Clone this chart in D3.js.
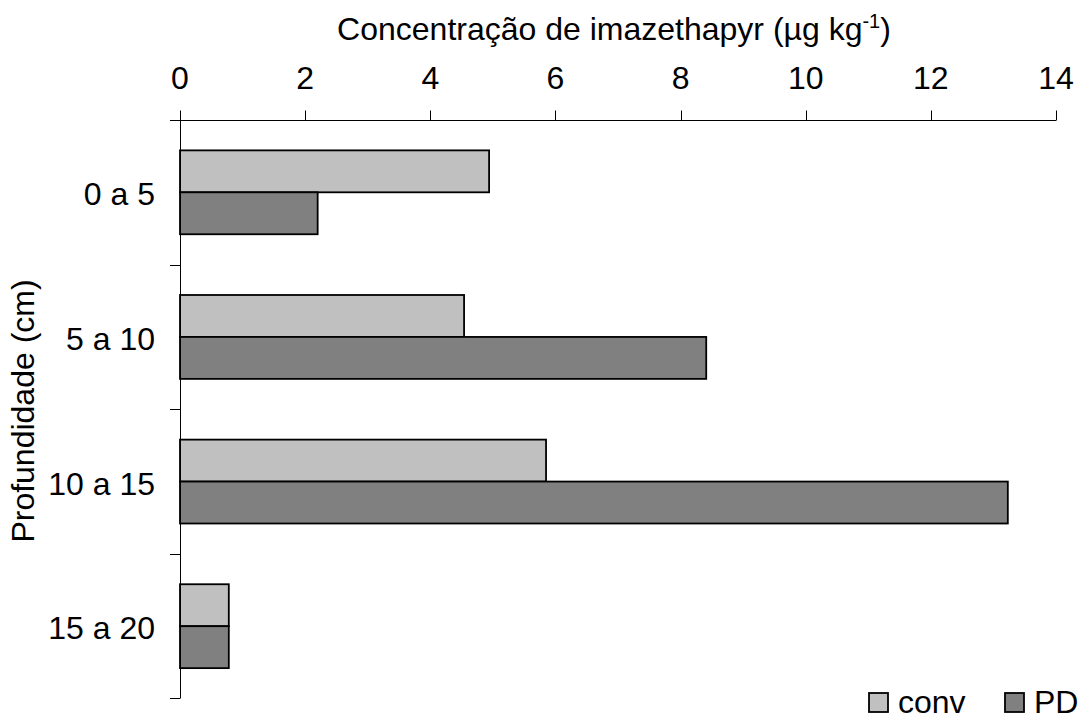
<!DOCTYPE html>
<html>
<head>
<meta charset="utf-8">
<script src="https://cdn.jsdelivr.net/npm/d3@7"></script>
<style>
  body { margin: 0; background: #fff; }
  text { font-family: "Liberation Sans", Arial, sans-serif; fill: #000; }
</style>
</head>
<body>
<div id="chart"></div>
<script>
var categories = ["0 a 5", "5 a 10", "10 a 15", "15 a 20"];
var seriesNames = ["conv", "PD"];
var convValues = [4.94, 4.54, 5.85, 0.78];
var pdValues = [2.2, 8.41, 13.23, 0.78];
var xTicks = [0, 2, 4, 6, 8, 10, 12, 14];
var colors = ["#c0c0c0", "#808080"];

var width = 1082, height = 715;
var mLeft = 180, mRight = 1056, mTop = 120, mBottom = 698.5;
var fontSize = "32px";

var svg = d3.select("#chart")
    .append("svg")
    .attr("width", width)
    .attr("height", height);

var x = d3.scaleLinear().domain([0, 14]).range([mLeft, mRight]);

var y = d3.scaleBand()
    .domain(categories)
    .range([mTop, mBottom])
    .paddingInner(0.42)
    .paddingOuter(0.21);

var ySub = d3.scaleBand()
    .domain(seriesNames)
    .range([0, y.bandwidth()]);

var rows = categories.map(function (c, i) {
    return { cat: c, values: [convValues[i], pdValues[i]] };
});

// bars
var groups = svg.selectAll("g.row")
    .data(rows).enter()
    .append("g")
    .attr("class", "row")
    .attr("transform", function (d) { return "translate(0," + y(d.cat) + ")"; });

groups.selectAll("rect")
    .data(function (d) { return d.values.map(function (v, j) { return { s: seriesNames[j], v: v, j: j }; }); })
    .enter()
    .append("rect")
    .attr("x", x(0))
    .attr("y", function (d) { return ySub(d.s); })
    .attr("width", function (d) { return x(d.v) - x(0); })
    .attr("height", ySub.bandwidth())
    .attr("fill", function (d) { return colors[d.j]; })
    .attr("stroke", "#000")
    .attr("stroke-width", 1.8);

// top x axis
var xAxis = svg.append("g")
    .attr("transform", "translate(0," + (mTop + 0.5) + ")");
xAxis.append("line")
    .attr("x1", mLeft - 10).attr("x2", mRight)
    .attr("y1", 0).attr("y2", 0)
    .attr("stroke", "#000");
xAxis.selectAll("line.tick")
    .data(xTicks).enter()
    .append("line")
    .attr("class", "tick")
    .attr("x1", function (d) { return Math.round(x(d)) + 0.5; })
    .attr("x2", function (d) { return Math.round(x(d)) + 0.5; })
    .attr("y1", -10).attr("y2", 0)
    .attr("stroke", "#000");
xAxis.selectAll("text")
    .data(xTicks).enter()
    .append("text")
    .attr("x", function (d) { return x(d); })
    .attr("y", -32)
    .attr("text-anchor", "middle")
    .style("font-size", fontSize)
    .text(function (d) { return d; });

// y axis
var step = y.step();
var bounds = categories.map(function (c) { return y(c) - step * y.paddingInner() / 2; });
bounds.push(bounds[bounds.length - 1] + step);

var yAxis = svg.append("g");
yAxis.append("line")
    .attr("x1", mLeft + 0.5).attr("x2", mLeft + 0.5)
    .attr("y1", mTop).attr("y2", mBottom)
    .attr("stroke", "#000");
yAxis.selectAll("line.tick")
    .data(bounds).enter()
    .append("line")
    .attr("class", "tick")
    .attr("x1", mLeft - 10).attr("x2", mLeft)
    .attr("y1", function (d) { return Math.round(d) + 0.5; })
    .attr("y2", function (d) { return Math.round(d) + 0.5; })
    .attr("stroke", "#000");
yAxis.selectAll("text")
    .data(categories).enter()
    .append("text")
    .attr("x", 155)
    .attr("y", function (d) { return y(d) + y.bandwidth() / 2 + 13; })
    .attr("text-anchor", "end")
    .style("font-size", fontSize)
    .text(function (d) { return d; });

// titles
var title = svg.append("text")
    .attr("x", 614)
    .attr("y", 40)
    .attr("text-anchor", "middle")
    .style("font-size", fontSize);
title.append("tspan").text("Concentração de imazethapyr (µg kg");
title.append("tspan").attr("dy", -12).style("font-size", "20px").text("-1");
title.append("tspan").attr("dy", 12).text(")");

svg.append("text")
    .attr("transform", "translate(34,411) rotate(-90)")
    .attr("text-anchor", "middle")
    .style("font-size", fontSize)
    .text("Profundidade (cm)");

// legend
var legendX = [869, 1005];
var legend = svg.selectAll("g.legend")
    .data(seriesNames).enter()
    .append("g")
    .attr("class", "legend")
    .attr("transform", function (d, i) { return "translate(" + legendX[i] + ",693)"; });
legend.append("rect")
    .attr("width", 19).attr("height", 19)
    .attr("fill", function (d, i) { return colors[i]; })
    .attr("stroke", "#000")
    .attr("stroke-width", 1.8);
legend.append("text")
    .attr("x", 29)
    .attr("y", 20)
    .style("font-size", fontSize)
    .text(function (d) { return d; });
</script>
</body>
</html>
